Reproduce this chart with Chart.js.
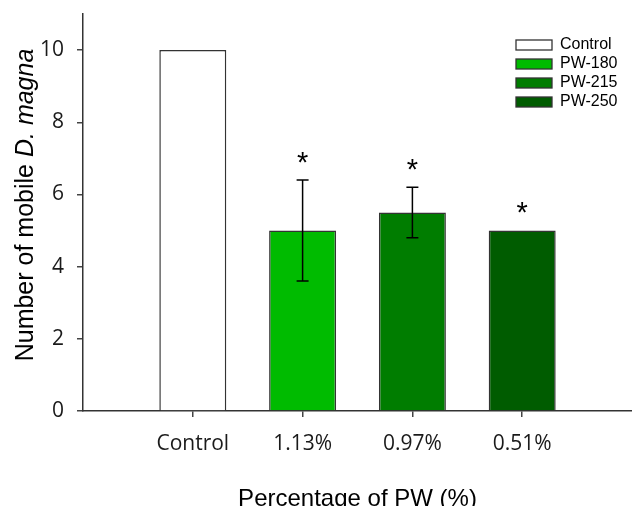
<!DOCTYPE html>
<html><head><meta charset="utf-8">
<script src="https://cdn.jsdelivr.net/npm/chart.js@4/dist/chart.umd.min.js"></script>
<style>html,body{margin:0;padding:0;background:#fff}#wrap{width:632px;height:506px}</style>
</head><body><div id="wrap"><canvas id="c" width="632" height="506"></canvas></div>
<script>
const categories = ['', 'Control', '1.13%', '0.97%', '0.51%', ''];
const seriesNames = ['Control', 'PW-180', 'PW-215', 'PW-250'];
const meanValues = [10, 5, 5.5, 5];
const errorValues = [0, 1.4, 0.7, 0];
const significant = [false, true, true, true];
const yTicks = [0, 2, 4, 6, 8, 10];
const colors = ['#ffffff', '#00bb00', '#007d00', '#005c00'];

const datasets = seriesNames.map((name, i) => ({
  label: name,
  data: categories.map((c, j) => (j === i + 1 ? meanValues[i] : null)),
  backgroundColor: colors[i],
  borderColor: '#333333',
  borderWidth: 1.5,
  grouped: false,
  categoryPercentage: 1,
  barPercentage: 0.61
}));

const tickFont = { family: 'Open Sans', size: 21 };

const extras = {
  id: 'extras',
  afterDatasetsDraw(chart) {
    const ctx = chart.ctx, xs = chart.scales.x, ys = chart.scales.y;
    ctx.save();
    ctx.strokeStyle = '#000';
    ctx.lineWidth = 1.5;
    meanValues.forEach((m, i) => {
      const x = xs.getPixelForValue(i + 1);
      const e = errorValues[i];
      if (e > 0) {
        const yt = ys.getPixelForValue(m + e), yb = ys.getPixelForValue(m - e);
        ctx.beginPath();
        ctx.moveTo(x, yt); ctx.lineTo(x, yb);
        ctx.moveTo(x - 6, yt); ctx.lineTo(x + 6, yt);
        ctx.moveTo(x - 6, yb); ctx.lineTo(x + 6, yb);
        ctx.stroke();
      }
      if (significant[i]) {
        ctx.font = '29px "Liberation Sans"';
        ctx.fillStyle = '#000';
        ctx.textAlign = 'center';
        ctx.textBaseline = 'alphabetic';
        const mt = ctx.measureText('*');
        const cy = ys.getPixelForValue(m + e) - 23;
        ctx.fillText('*', x, cy + (mt.actualBoundingBoxAscent - mt.actualBoundingBoxDescent) / 2);
      }
    });
    ctx.restore();
  },
  afterDraw(chart) {
    const ctx = chart.ctx;
    ctx.save();
    // legend
    ctx.font = '16px "Liberation Sans"';
    ctx.textBaseline = 'middle';
    ctx.textAlign = 'left';
    chart.data.datasets.forEach((ds, k) => {
      const cy = 45 + k * 19;
      ctx.fillStyle = ds.backgroundColor;
      ctx.fillRect(516, cy - 5, 36, 10);
      ctx.strokeStyle = '#333333';
      ctx.lineWidth = 1.3;
      ctx.strokeRect(516, cy - 5, 36, 10);
      ctx.fillStyle = '#000';
      ctx.fillText(ds.label, 560, cy);
    });
    // x title
    ctx.font = '24px "Liberation Sans"';
    ctx.textAlign = 'center';
    ctx.textBaseline = 'alphabetic';
    ctx.fillStyle = '#000';
    ctx.fillText('Percentage of PW (%)', (chart.chartArea.left + chart.chartArea.right) / 2, 506);
    // y title
    ctx.translate(32.5, 205);
    ctx.rotate(-Math.PI / 2);
    const p1 = 'Number of mobile ', p2 = 'D. magna';
    ctx.font = '25px "Liberation Sans"';
    const w1 = ctx.measureText(p1).width;
    ctx.font = 'italic 25px "Liberation Sans"';
    const w2 = ctx.measureText(p2).width;
    const sx = -(w1 + w2) / 2;
    ctx.textAlign = 'left';
    ctx.font = '25px "Liberation Sans"';
    ctx.fillText(p1, sx, 0);
    ctx.font = 'italic 25px "Liberation Sans"';
    ctx.fillText(p2, sx + w1, 0);
    ctx.restore();
  }
};

new Chart(document.getElementById('c'), {
  type: 'bar',
  data: { labels: categories, datasets },
  options: {
    responsive: false,
    animation: false,
    devicePixelRatio: 1,
    layout: { padding: { top: 14, left: 0, right: 0, bottom: 0 } },
    plugins: { legend: { display: false }, tooltip: { enabled: false } },
    scales: {
      x: {
        type: 'category',
        offset: false,
        grid: {
          offset: false,
          drawOnChartArea: false,
          tickLength: 6,
          lineWidth: 1.5,
          color: c => (c.index === 0 || c.index === categories.length - 1) ? 'rgba(0,0,0,0)' : '#444'
        },
        border: { color: '#333', width: 1.5 },
        ticks: { font: tickFont, color: '#1a1a1a', padding: 14, autoSkip: false, maxRotation: 0 },
        afterFit: s => { s.height = 95; s.paddingLeft = 0; s.paddingRight = 0; }
      },
      y: {
        min: 0,
        max: 11,
        grid: { drawOnChartArea: false, tickLength: 6, lineWidth: 1.5, color: '#444' },
        border: { color: '#333', width: 1.5 },
        ticks: { font: tickFont, color: '#1a1a1a', padding: 13, includeBounds: false },
        afterBuildTicks: s => { s.ticks = yTicks.map(v => ({ value: v })); },
        afterFit: s => { s.width = 83; s.paddingTop = 0; s.paddingBottom = 0; }
      }
    }
  },
  plugins: [extras]
});
</script></body></html>
